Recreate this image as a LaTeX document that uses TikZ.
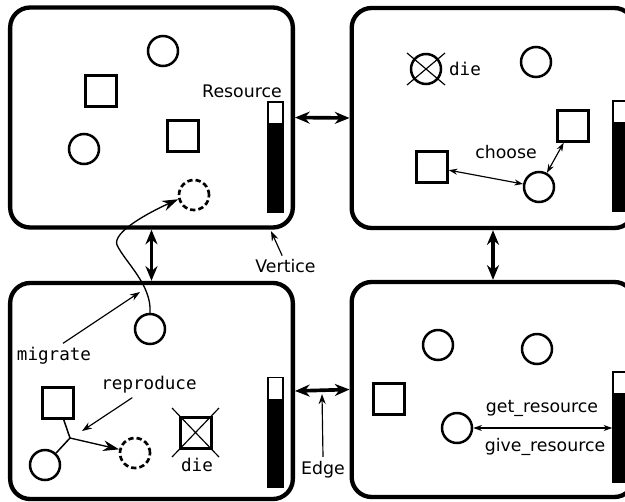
\documentclass[tikz,border=0pt]{standalone}
\usepackage{fontspec}
\setmainfont{DejaVu Sans}
\setmonofont{DejaVu Sans Mono}
\usetikzlibrary{arrows.meta}

\begin{document}
\begin{tikzpicture}[x = 0.03cm, y = -0.03cm,
    font = \fontsize{14.8}{17}\selectfont,
    room/.style = { draw, line width = 0.13cm, rounded corners = 0.6cm, minimum width = 8.48cm, minimum height = 6.6cm },
    agent/.style = { draw, circle, line width = 0.075cm, minimum size = 0.9cm, inner sep = 0pt },
    ghost/.style = { agent, line width = 0.08cm, dash pattern = on 0.16cm off 0.09cm },
    worker/.style = { draw, rectangle, line width = 0.075cm, minimum size = 0.93cm, inner sep = 0pt },
    gauge/.style = { draw, fill = black, line width = 0.045cm, minimum width = 0.45cm, minimum height = 3.3cm, inner sep = 0pt,
      path picture = { \fill[white] (path picture bounding box.north west) rectangle ([yshift = -0.63cm] path picture bounding box.north east); } },
    code/.style = { font = \fontsize{15}{17}\selectfont\ttfamily },
    link/.style = { {Stealth[length = 0.44cm, width = 0.36cm]}-{Stealth[length = 0.44cm, width = 0.36cm]}, line width = 0.11cm },
    pair/.style = { {Stealth[length = 0.26cm, width = 0.18cm]}-{Stealth[length = 0.26cm, width = 0.18cm]}, line width = 0.035cm },
    note/.style = { -{Stealth[length = 0.3cm, width = 0.21cm]}, line width = 0.035cm },
    leap/.style = { -{Stealth[length = 0.48cm, width = 0.32cm]}, line width = 0.04cm },
    strike/.style = { line width = 0.035cm }
  ]
  \clip (0,0) rectangle (625,501);

  \node[room] (tl) at (151.5,117.5) {};
  \node[room] (tr) at (493,118) {};
  \node[room, minimum height = 6.48cm] (bl) at (151.5,391) {};
  \node[room, minimum height = 6.45cm] (br) at (493,389.5) {};

  \draw[link] (tl.east) -- (tr.west);
  \draw[link] (bl.east) -- (br.west);
  \draw[link] (tl.south) -- (bl.north);
  \draw[link] (tr.south) -- (br.north);

  \node[agent] (a1) at (163,51) {};
  \node[worker] (w1) at (101,91) {};
  \node[agent] (a2) at (84,149) {};
  \node[worker] (w2) at (183,136) {};
  \node[ghost] (g1) at (194,195) {};
  \node (res) at (242,91) {Resource};
  \node[gauge] (r1) at (275.5,157) {};

  \node[agent] (d1) at (426,69) {};
  \draw[strike] ([shift = {(-19,-16)}] d1.center) -- ([shift = {(19,16)}] d1.center);
  \draw[strike] ([shift = {(-19,16)}] d1.center) -- ([shift = {(19,-16)}] d1.center);
  \node[code] (die1) at (465,69) {die};
  \node[agent] (a3) at (536,62) {};
  \node[worker] (w3) at (573,126) {};
  \node[worker] (w4) at (432,167) {};
  \node[agent] (a4) at (539,187) {};
  \node (cho) at (506,152) {choose};
  \draw[pair] (w4) -- (a4);
  \draw[pair] (a4) -- (w3);
  \node[gauge] (r2) at (620.5,156) {};

  \node[agent] (m1) at (150,329) {};
  \draw[leap] (m1.north) .. controls (152,285) and (125,262) .. (117,245)
    .. controls (112,232) and (150,212) .. (g1.195);
  \node[code] (mig) at (54,356) {migrate};
  \coordinate (mtip) at (140,292);
  \draw[note] ([xshift = 0.27cm] mig.north) -- (mtip);
  \node[worker] (w5) at (58,403) {};
  \node[agent] (a5) at (45,465) {};
  \coordinate (fork) at (70,438);
  \node[ghost] (g2) at (135,453) {};
  \draw[line width = 0.045cm] (w5) -- (fork) -- (a5);
  \draw[leap] (fork) -- (g2);
  \node[code] (rep) at (149,385) {reproduce};
  \coordinate (rtip) at (82,431);
  \draw[note] ([xshift = -0.5cm] rep.south) -- (rtip);
  \node[worker, line width = 0.11cm] (d2) at (196,433) {};
  \draw[strike] ([shift = {(-24,-25)}] d2.center) -- ([shift = {(23,24)}] d2.center);
  \draw[strike] ([shift = {(-24,24)}] d2.center) -- ([shift = {(23,-25)}] d2.center);
  \node[code] (die2) at (197,465) {die};
  \node[gauge] (r3) at (275.5,432.5) {};

  \node[agent] (a6) at (438,345) {};
  \node[agent] (a7) at (537,349) {};
  \node[worker] (w7) at (389,399) {};
  \node[agent] (a8) at (457,428) {};
  \node (get) at (542,408) {get\_resource};
  \node (give) at (545,447) {give\_resource};
  \node[gauge] (r4) at (620.5,427) {};
  \draw[pair] (a8) -- (a8 -| r4.west);

  \node (vert) at (285.5,266.5) {Vertice};
  \coordinate (vtip) at (271,231);
  \draw[note] ([xshift = -0.1cm] vert.north) -- (vtip);
  \node (edge) at (323,469.5) {Edge};
  \coordinate (etip) at (322,394);
  \draw[note] (edge.north) -- (etip);
\end{tikzpicture}
\end{document}
